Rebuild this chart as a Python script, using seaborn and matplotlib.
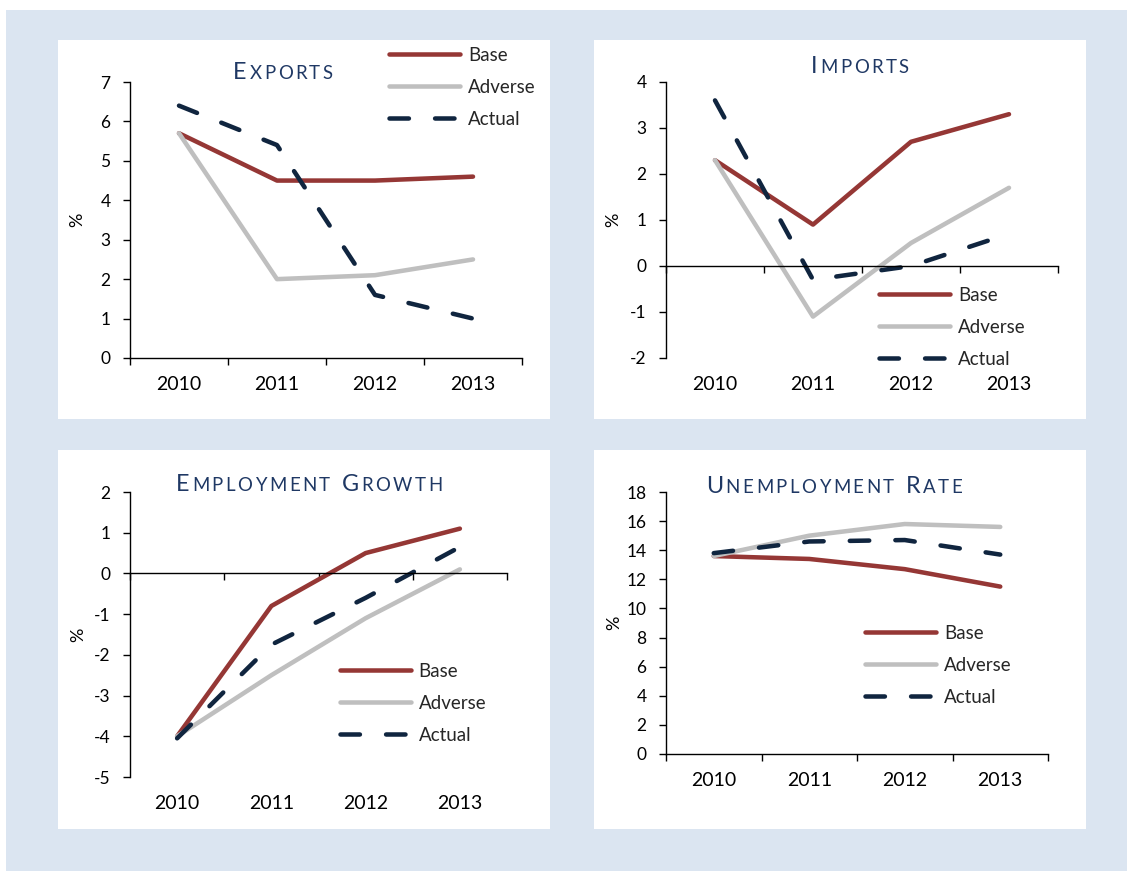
import numpy as np
import pandas as pd
import matplotlib.pyplot as plt
import seaborn as sns
from matplotlib.patches import Rectangle
from matplotlib.lines import Line2D

sns.set_style("white")
plt.rcParams['font.family'] = ['Lato', 'DejaVu Sans']
plt.rcParams['axes.unicode_minus'] = False

W, H = 1127, 871

years = [2010, 2011, 2012, 2013]
scenarios = ['Base', 'Adverse', 'Actual']

exports_base = [5.7, 4.5, 4.5, 4.6]
exports_adverse = [5.7, 2.0, 2.1, 2.5]
exports_actual = [6.4, 5.4, 1.6, 1.0]

imports_base = [2.3, 0.9, 2.7, 3.3]
imports_adverse = [2.3, -1.1, 0.5, 1.7]
imports_actual = [3.6, -0.3, 0.0, 0.7]

employment_base = [-4.0, -0.8, 0.5, 1.1]
employment_adverse = [-4.0, -2.5, -1.1, 0.1]
employment_actual = [-4.05, -1.75, -0.6, 0.65]

unemployment_base = [13.6, 13.4, 12.7, 11.5]
unemployment_adverse = [13.6, 15.0, 15.8, 15.6]
unemployment_actual = [13.8, 14.6, 14.7, 13.7]

colors = {'Base': '#953735', 'Adverse': '#bfbfbf', 'Actual': '#10253f'}
dashes = {'Base': '', 'Adverse': '', 'Actual': (4.3, 5.8)}
title_color = '#1f3864'
LW = 3.25


def fx(x):
    return x / W


def fy(y):
    return 1 - y / H


def make_df(base, adverse, actual):
    return pd.DataFrame({
        'year': years * 3,
        'value': base + adverse + actual,
        'scenario': ['Base'] * 4 + ['Adverse'] * 4 + ['Actual'] * 4,
    })


# title, data, ylim, ystep, axes box (px: left, right, top, bottom), legend (x, first row y), title (cx, baseline)
panels = [
    ('Exports', make_df(exports_base, exports_adverse, exports_actual), (0, 7), 1,
     (130, 522, 82, 358), (389, 56), (283, 79)),
    ('Imports', make_df(imports_base, imports_adverse, imports_actual), (-2, 4), 1,
     (666, 1058, 82, 358), (879, 296), (860, 73)),
    ('Employment Growth', make_df(employment_base, employment_adverse, employment_actual), (-5, 2), 1,
     (130, 507, 492, 777), (340, 672), (309, 491)),
    ('Unemployment Rate', make_df(unemployment_base, unemployment_adverse, unemployment_actual), (0, 18), 2,
     (666, 1048, 492, 754), (865, 634), (834, 493)),
]

fig = plt.figure(figsize=(W / 100, H / 100), dpi=100)
fig.patch.set_facecolor('white')

# background and white panels
fig.add_artist(Rectangle((fx(6), fy(871)), fx(1127 - 6), (871 - 10) / H,
                         transform=fig.transFigure, facecolor='#dbe5f1', edgecolor='none', zorder=-10))
for (l, t, r, b) in [(58, 40, 550, 419), (594, 40, 1086, 419), (58, 450, 550, 829), (594, 450, 1086, 829)]:
    fig.add_artist(Rectangle((fx(l), fy(b)), fx(r - l), (b - t) / H,
                             transform=fig.transFigure, facecolor='white', edgecolor='none', zorder=-9))

axes = []
for title, df, ylim, ystep, box, leg, tpos in panels:
    l, r, t, b = box
    ax = fig.add_axes([fx(l), fy(b), fx(r - l), (b - t) / H])
    ax.patch.set_alpha(0)
    sns.lineplot(data=df, x='year', y='value', hue='scenario', style='scenario',
                 hue_order=scenarios, style_order=scenarios, palette=colors, dashes=dashes,
                 linewidth=LW, errorbar=None, legend=False, ax=ax)
    for line in ax.lines:
        line.set_dash_capstyle('round')
        line.set_solid_joinstyle('round')
        line.set_dash_joinstyle('round')

    ax.set_xlim(years[0] - 0.5, years[-1] + 0.5)
    ax.set_ylim(*ylim)
    ax.set_yticks(np.arange(ylim[0], ylim[1] + 0.1, ystep))
    ax.set_xticks([y - 0.5 for y in years] + [years[-1] + 0.5])
    ax.set_xticklabels([])
    ax.tick_params(axis='x', direction='out', length=5, width=1, color='black', bottom=True)
    ax.tick_params(axis='y', direction='out', length=5, width=1, color='black', left=True,
                   pad=9, labelsize=12.5, labelcolor='black')
    for s in ['top', 'right']:
        ax.spines[s].set_visible(False)
    for s in ['left', 'bottom']:
        ax.spines[s].set_color('black')
        ax.spines[s].set_linewidth(1)
    ax.spines['bottom'].set_position(('data', 0))
    ax.set_xlabel('')
    ax.set_ylabel('%', fontsize=13, color='black')
    ax.yaxis.set_label_coords(-0.115, 0.5)

    sec = ax.secondary_xaxis('bottom')
    sec.set_xticks(years)
    sec.set_xticklabels([str(y) for y in years])
    sec.tick_params(length=0, pad=13, labelsize=14, labelcolor='black')
    sec.spines['bottom'].set_visible(False)

    handles = []
    for s in scenarios:
        if dashes[s]:
            handles.append(Line2D([], [], color=colors[s], lw=LW, dashes=dashes[s], dash_capstyle='round'))
        else:
            handles.append(Line2D([], [], color=colors[s], lw=LW))
    fs = 13.5
    row_px = fs * 100 / 72
    ax.legend(handles, scenarios, loc='upper left',
              bbox_to_anchor=(fx(leg[0]), fy(leg[1] - row_px / 2)), bbox_transform=fig.transFigure,
              frameon=False, borderpad=0, borderaxespad=0, handlelength=3.8, handletextpad=0.4,
              labelspacing=0.8, fontsize=fs)
    axes.append((ax, title, tpos))

# small caps titles
renderer = fig.canvas.get_renderer()


def small_caps(title, cx, baseline, big=16.8, small=13.4, track=2.5, word_gap=9):
    chars = []
    for wi, word in enumerate(title.split()):
        for ci, ch in enumerate(word):
            size = big if ci == 0 else small
            chars.append((ch.upper(), size, wi > 0 and ci == 0))
    widths = []
    for ch, size, _ in chars:
        prop = plt.matplotlib.font_manager.FontProperties(family=['Lato'], size=size)
        w, h, d = renderer.get_text_width_height_descent(ch, prop, ismath=False)
        widths.append(w)
    total = sum(widths) + track * (len(chars) - 1) + word_gap * sum(1 for c in chars if c[2])
    x = cx - total / 2
    for (ch, size, new_word), w in zip(chars, widths):
        if new_word:
            x += word_gap
        fig.text(fx(x), fy(baseline), ch, fontsize=size, color=title_color,
                 ha='left', va='baseline')
        x += w + track


for ax, title, (cx, by) in axes:
    small_caps(title, cx, by)

fig.savefig('out.png', dpi=100)
